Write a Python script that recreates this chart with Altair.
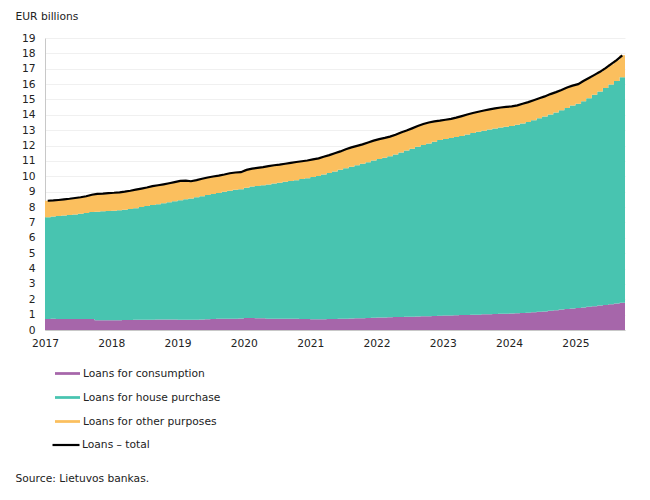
import altair as alt
import pandas as pd

# Monthly data, Jan 2017 - Sep 2025 (EUR billions)
months = pd.date_range("2017-01-01", periods=105, freq="MS")

consumption = [0.72,0.73,0.72,0.72,0.71,0.72,0.72,0.71,0.71,0.64,
0.63,0.63,0.64,0.64,0.65,0.65,0.66,0.66,0.67,0.67,
0.68,0.68,0.68,0.68,0.67,0.66,0.66,0.67,0.68,0.70,
0.72,0.73,0.74,0.74,0.74,0.75,0.78,0.78,0.77,0.76,
0.74,0.74,0.73,0.73,0.73,0.73,0.72,0.71,0.70,0.70,
0.70,0.71,0.72,0.73,0.74,0.75,0.76,0.77,0.78,0.79,
0.81,0.82,0.83,0.84,0.85,0.86,0.87,0.88,0.89,0.90,
0.91,0.93,0.94,0.95,0.96,0.97,0.98,0.99,1.00,1.02,
1.03,1.04,1.05,1.06,1.07,1.09,1.11,1.13,1.15,1.18,
1.21,1.25,1.29,1.33,1.37,1.40,1.43,1.47,1.51,1.55,
1.59,1.63,1.67,1.72,1.77]

house = [6.61,6.65,6.70,6.73,6.77,6.80,6.85,6.91,6.97,7.06,
7.09,7.11,7.12,7.15,7.17,7.22,7.27,7.34,7.40,7.46,
7.51,7.57,7.63,7.69,7.77,7.84,7.90,7.96,8.02,8.08,
8.13,8.19,8.25,8.32,8.38,8.41,8.48,8.55,8.60,8.66,
8.73,8.79,8.85,8.91,8.96,9.02,9.10,9.17,9.25,9.32,
9.42,9.51,9.60,9.69,9.79,9.87,9.96,10.05,10.14,10.24,
10.31,10.38,10.47,10.58,10.70,10.82,10.93,11.04,11.14,11.24,
11.34,11.43,11.49,11.55,11.60,11.65,11.74,11.83,11.90,11.95,
12.01,12.07,12.13,12.17,12.21,12.26,12.32,12.40,12.50,12.60,
12.69,12.78,12.87,12.97,13.08,13.20,13.29,13.41,13.57,13.75,
13.93,14.12,14.31,14.48,14.68]

other = [1.08,1.05,1.04,1.05,1.06,1.07,1.07,1.08,1.12,1.16,
1.16,1.17,1.17,1.17,1.18,1.19,1.20,1.20,1.20,1.23,
1.23,1.23,1.24,1.25,1.26,1.22,1.12,1.12,1.14,1.14,
1.14,1.13,1.13,1.14,1.13,1.11,1.16,1.17,1.18,1.18,
1.19,1.19,1.18,1.18,1.19,1.18,1.16,1.15,1.15,1.15,
1.15,1.16,1.18,1.20,1.23,1.26,1.26,1.26,1.28,1.29,
1.30,1.30,1.28,1.28,1.30,1.30,1.32,1.35,1.37,1.36,
1.32,1.26,1.25,1.24,1.26,1.30,1.30,1.30,1.30,1.31,
1.32,1.31,1.30,1.29,1.27,1.27,1.29,1.30,1.30,1.30,
1.30,1.32,1.32,1.32,1.33,1.30,1.28,1.34,1.32,1.30,
1.28,1.29,1.32,1.36,1.42]

series_names = ["Loans for consumption", "Loans for house purchase", "Loans for other purposes"]
series_colors = ["#A666AA", "#48C4B0", "#FBBF5E"]
total_name = "Loans – total"
year_ticks = list(range(2017, 2026))

FONT = "DejaVu Sans"
FS = 10.7
TXT = "#222222"

# stacked area table (step-after, with a closing point at the end of the last month)
rows = []
ext_dates = list(months) + [pd.Timestamp("2025-10-01")]
for i, d in enumerate(ext_dates):
    j = min(i, len(months) - 1)
    c, h, o = consumption[j], house[j], other[j]
    rows.append({"date": d, "series": series_names[0], "lo": 0.0, "hi": c})
    rows.append({"date": d, "series": series_names[1], "lo": c, "hi": c + h})
    rows.append({"date": d, "series": series_names[2], "lo": c + h, "hi": c + h + o})
area_df = pd.DataFrame(rows)

line_df = pd.DataFrame({
    "date": months + pd.Timedelta(days=15),
    "total": [round(c + h + o, 2) for c, h, o in zip(consumption, house, other)],
    "label": total_name,
})

x_axis = alt.Axis(
    values=[alt.DateTime(year=y, month=1, date=1) for y in year_ticks],
    format="%Y", ticks=False, grid=False, labelPadding=8, labelFlush=False,
    labelOverlap=False, labelBound=False,
    domainColor="#c8c8c8", labelFont=FONT, labelFontSize=FS, labelColor=TXT,
    title="Source: Lietuvos bankas.", titleX=-30, titleY=148, titleAlign="left",
    titleBaseline="middle", titleFont=FONT, titleFontSize=FS, titleFontWeight="normal",
    titleColor=TXT,
)
y_axis = alt.Axis(
    values=list(range(0, 20)), ticks=False, grid=True, gridColor="#f0f0f0",
    domainColor="#c8c8c8", labelPadding=10, labelFont=FONT, labelFontSize=FS,
    labelColor=TXT,
    title="EUR billions", titleAngle=0, titleX=-30, titleY=-22, titleAlign="left",
    titleBaseline="middle", titleFont=FONT, titleFontSize=FS, titleFontWeight="normal",
    titleColor=TXT,
)
x_scale = alt.Scale(domain=[alt.DateTime(year=2017, month=1, date=1),
                            alt.DateTime(year=2025, month=10, date=1)])
y_scale = alt.Scale(domain=[0, 19], nice=False)

areas = alt.Chart(area_df).mark_area(interpolate="step-after", opacity=1).encode(
    x=alt.X("date:T", scale=x_scale, axis=x_axis),
    y=alt.Y("hi:Q", scale=y_scale, axis=y_axis, stack=None),
    y2="lo:Q",
    color=alt.Color(
        "series:N",
        scale=alt.Scale(domain=series_names, range=series_colors),
        legend=alt.Legend(
            title=None, orient="none", legendX=10, legendY=323,
            symbolType="M-1,-0.11H1V0.11H-1Z", symbolSize=625,
            symbolStrokeWidth=0, symbolOpacity=1,
            labelFont=FONT, labelFontSize=FS, labelColor=TXT, labelOffset=3,
            rowPadding=6, padding=0,
        ),
    ),
    order=alt.Order("series:N"),
)

line = alt.Chart(line_df).mark_line(strokeWidth=2.2).encode(
    x=alt.X("date:T", scale=x_scale, axis=x_axis),
    y=alt.Y("total:Q", scale=y_scale, axis=y_axis),
    stroke=alt.Stroke(
        "label:N",
        scale=alt.Scale(domain=[total_name], range=["#000000"]),
        legend=alt.Legend(
            title=None, orient="none", legendX=6, legendY=392,
            symbolType="M-1,0H1", symbolSize=729, symbolStrokeWidth=2.2,
            labelFont=FONT, labelFontSize=FS, labelColor=TXT, labelOffset=1,
            padding=0,
        ),
    ),
)

chart = alt.layer(areas, line).resolve_legend(color="independent", stroke="independent").properties(
    width=580, height=292, autosize="none",
    padding={"left": 37, "top": 30, "right": 17, "bottom": 170},
    background="white",
).configure_view(stroke=None)

chart.save("out.html", embed_options={"renderer": "svg", "actions": False})
